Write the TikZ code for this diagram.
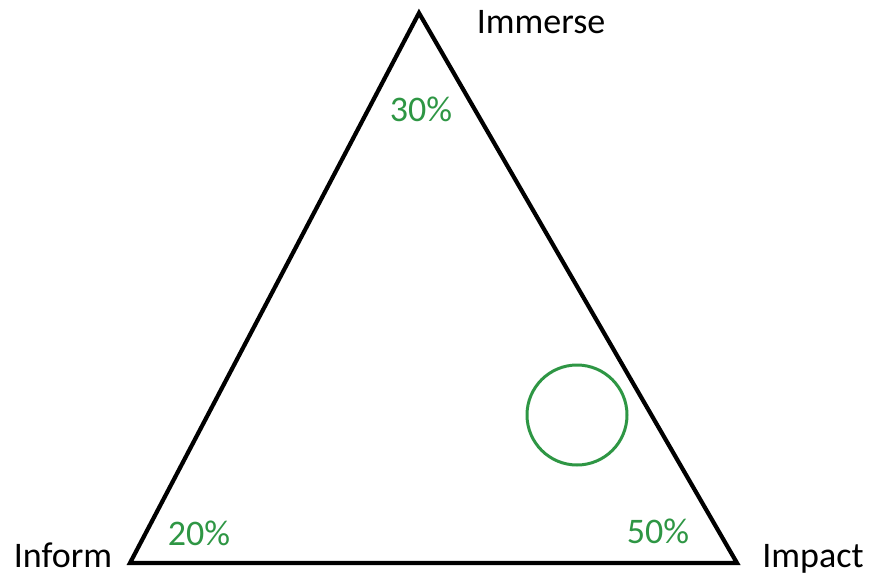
\documentclass[tikz,border=0pt]{standalone}
\usepackage{fontspec}
\setmainfont{Carlito}
\definecolor{pctgreen}{RGB}{46,150,68}
\begin{document}
\begin{tikzpicture}[x=1pt,y=-1pt,
  lbl/.style={anchor=base,inner sep=0pt,font=\fontsize{36}{40}\selectfont},
  pct/.style={lbl,text=pctgreen}]
\useasboundingbox (0,0) rectangle (871,574);
\coordinate (top) at (419,13);
\coordinate (bl) at (130,563);
\coordinate (br) at (737,563);
\draw[line width=4.2pt,line join=miter] (top) -- (br) -- (bl) -- cycle;
\node[draw=pctgreen,line width=3pt,circle,minimum size=100pt,inner sep=0pt] (c) at (577,415) {};
\node[lbl] (immerse) at (541,33) {Immerse};
\node[lbl] (inform) at (63,567) {Inform};
\node[lbl] (impact) at (813,567) {Impact};
\node[pct] (p30) at (421,121) {30\%};
\node[pct] (p20) at (199,545) {20\%};
\node[pct] (p50) at (658,543) {50\%};
\end{tikzpicture}
\end{document}
